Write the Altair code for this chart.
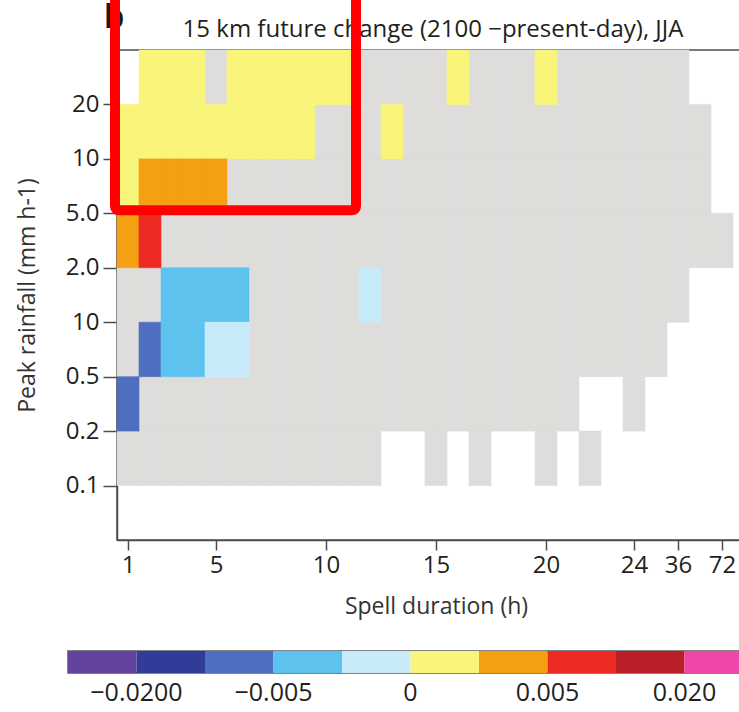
import altair as alt
import numpy as np
import pandas as pd

NS = "ns"  # spells occur, but the change is not significant (drawn grey)

# x: spell-duration classes; labelled columns and their text
n_duration = 29
duration_index = [0, 4, 9, 14, 19, 23, 25, 27]
duration_label = ["1", "5", "10", "15", "20", "24", "36", "72"]

# y: peak-rainfall class boundaries (mm h-1), bottom to top
n_rain = 9
rain_bound = [1, 2, 3, 4, 5, 6, 7, 8]
rain_bound_label = ["0.1", "0.2", "0.5", "10", "2.0", "5.0", "10", "20"]

# change per duration class, one list per peak-rainfall class; None = no spells
rain_above_20 = [None, 0.0006, 0.0007, 0.0005, NS, 0.0006, 0.0008, 0.0007, 0.0006, 0.0005,
                 0.0004, NS, NS, NS, NS, 0.0003, NS, NS, NS, 0.0004,
                 NS, NS, NS, NS, NS, NS, None, None, None]
rain_10_20 = [0.0008, 0.0009, 0.0008, 0.0007, 0.0007, 0.0006, 0.0006, 0.0005, 0.0004, NS,
              NS, NS, 0.0003, NS, NS, NS, NS, NS, NS, NS,
              NS, NS, NS, NS, NS, NS, NS, None, None]
rain_5_10 = [0.0007, 0.0032, 0.0028, 0.0022, 0.0018, NS, NS, NS, NS, NS,
             NS, NS, NS, NS, NS, NS, NS, NS, NS, NS,
             NS, NS, NS, NS, NS, NS, NS, None, None]
rain_2_5 = [0.0035, 0.0068, NS, NS, NS, NS, NS, NS, NS, NS,
            NS, NS, NS, NS, NS, NS, NS, NS, NS, NS,
            NS, NS, NS, NS, NS, NS, NS, NS, None]
rain_1_2 = [NS, NS, -0.0030, -0.0032, -0.0026, -0.0021, NS, NS, NS, NS,
            NS, -0.0006, NS, NS, NS, NS, NS, NS, NS, NS,
            NS, NS, NS, NS, NS, NS, None, None, None]
rain_05_1 = [NS, -0.0065, -0.0038, -0.0029, -0.0008, -0.0006, NS, NS, NS, NS,
             NS, NS, NS, NS, NS, NS, NS, NS, NS, NS,
             NS, NS, NS, NS, NS, None, None, None, None]
rain_02_05 = [-0.0072, NS, NS, NS, NS, NS, NS, NS, NS, NS,
              NS, NS, NS, NS, NS, NS, NS, NS, NS, NS,
              NS, None, None, NS, None, None, None, None, None]
rain_01_02 = [NS, NS, NS, NS, NS, NS, NS, NS, NS, NS,
              NS, NS, None, None, NS, None, NS, None, None, NS,
              None, NS, None, None, None, None, None, None, None]

rain_rows = [rain_above_20, rain_10_20, rain_5_10, rain_2_5,
             rain_1_2, rain_05_1, rain_02_05, rain_01_02]
rain_row_lower = [8, 7, 6, 5, 4, 3, 2, 1]

# colour classes of the change
class_edges = [-0.05, -0.02, -0.01, -0.005, -0.001, 0.0, 0.001, 0.005, 0.01, 0.02, 0.05]
class_colors = ["#6443a0", "#303c98", "#4e6ebf", "#5ec2ef", "#c8ebfa",
                "#f9f57b", "#f5a013", "#ee2a24", "#ba1e26", "#ef47a9"]
labelled_edges = [-0.02, -0.005, 0.0, 0.005, 0.02]
labelled_text = ["\u22120.0200", "\u22120.005", "0", "0.005", "0.020"]

FONT = "Open Sans"
INK = "#231f20"
GREY = "#dedddc"

thresholds = np.array(class_edges[1:-1])
records = []
for row, lower in zip(rain_rows, rain_row_lower):
    for col, v in enumerate(row):
        if v is None:
            continue
        rec = {"x0": col, "x1": col + 1, "y0": lower, "y1": lower + 1}
        if v == NS:
            rec["sig"] = False
            rec["change"] = np.nan
            rec["cls"] = np.nan
        else:
            rec["sig"] = True
            rec["change"] = v
            rec["cls"] = int(np.searchsorted(thresholds, v, side="right"))
        records.append(rec)
cells = pd.DataFrame(records)
grey_cells = cells[~cells["sig"]]
colour_cells = cells[cells["sig"]]


def lookup_expr(keys, texts):
    expr = "''"
    for k, t in reversed(list(zip(keys, texts))):
        expr = f"datum.value == {k} ? '{t}' : ({expr})"
    return expr


x_tick_values = [i + 0.5 for i in duration_index]
x_axis = alt.Axis(values=x_tick_values, labelExpr=lookup_expr(x_tick_values, duration_label),
                  grid=False, tickSize=10, labelPadding=3, titlePadding=18,
                  labelFlush=False, labelOverlap=False)
y_axis = alt.Axis(values=rain_bound, labelExpr=lookup_expr(rain_bound, rain_bound_label),
                  grid=False, tickSize=14, labelPadding=4, titlePadding=26,
                  labelOverlap=False)

x_scale = alt.Scale(domain=[0, n_duration], nice=False, zero=False)
y_scale = alt.Scale(domain=[0, n_rain], nice=False, zero=False)

X = alt.X("x0:Q", scale=x_scale, axis=x_axis, title="Spell duration (h)")
Y = alt.Y("y0:Q", scale=y_scale, axis=y_axis, title="Peak rainfall (mm h-1)")

grey = alt.Chart(grey_cells).mark_rect(color=GREY, stroke=GREY, strokeWidth=0.6).encode(
    x=X, x2="x1:Q", y=Y, y2="y1:Q")

bar_index = list(range(1, len(class_edges) - 1))
bar_label_index = [class_edges.index(e) for e in labelled_edges]
colour_scale = alt.Scale(type="threshold", domain=bar_index, range=class_colors)
colour = alt.Chart(colour_cells).mark_rect(strokeWidth=0.6).encode(
    x=X, x2="x1:Q", y=Y, y2="y1:Q",
    stroke=alt.Stroke("cls:Q", scale=colour_scale, legend=None),
    color=alt.Color(
        "cls:Q",
        scale=colour_scale,
        legend=alt.Legend(
            type="gradient", direction="horizontal", orient="none",
            legendX=-49, legendY=601, title=None,
            gradientLength=685, gradientThickness=22,
            gradientStrokeColor="transparent", gradientStrokeWidth=0,
            labelExpr=lookup_expr(bar_label_index, labelled_text),
            labelFont=FONT, labelFontSize=25, labelColor=INK,
            labelOffset=8, labelOverlap=False, labelAlign="center",
        ),
    ),
)

# outline of the colour bar
bar_frame = alt.Chart(pd.DataFrame({"k": [0]})).mark_rect(
    filled=False, stroke="#5a5a5a", strokeWidth=1.5
).encode(x=alt.value(-49), x2=alt.value(636), y=alt.value(601), y2=alt.value(623))

title = alt.Chart(pd.DataFrame({"t": ["15 km future change (2100 \u2212present-day), JJA"]})).mark_text(
    font=FONT, fontSize=24, color=INK, align="center", baseline="alphabetic"
).encode(text="t:N", x=alt.value(316), y=alt.value(-13))

panel_letter = alt.Chart(pd.DataFrame({"t": ["b"]})).mark_text(
    font=FONT, fontSize=32, fontWeight="bold", color="#1a1a1a",
    align="left", baseline="alphabetic"
).encode(text="t:N", x=alt.value(-13), y=alt.value(-22))

# highlighted region: short, intense spells
highlight = alt.Chart(pd.DataFrame({"k": [0]})).mark_rect(
    filled=False, stroke="#ff0000", strokeWidth=10, cornerRadius=4,
    xOffset=-2, x2Offset=-3, y2Offset=-3
).encode(x=alt.datum(0, scale=x_scale), x2=alt.datum(11),
         y=alt.datum(11, scale=y_scale), y2=alt.datum(6))

chart = (
    alt.layer(grey, colour, bar_frame, title, panel_letter, highlight)
    .properties(
        width=638, height=490,
        autosize=alt.AutoSizeParams(type="none"),
        padding={"left": 117, "top": 50, "right": -16, "bottom": 172},
    )
    .configure_view(stroke="#4d4d4d", strokeWidth=1.5)
    .configure_axis(
        labelFont=FONT, labelFontSize=24, labelColor=INK,
        titleFont=FONT, titleFontSize=23, titleFontWeight="normal", titleColor="#333333",
        domainColor="#4d4d4d", domainWidth=1.5, tickColor="#4d4d4d", tickWidth=1.5,
    )
)

chart.save("out.html", embed_options={"renderer": "svg", "actions": False})
